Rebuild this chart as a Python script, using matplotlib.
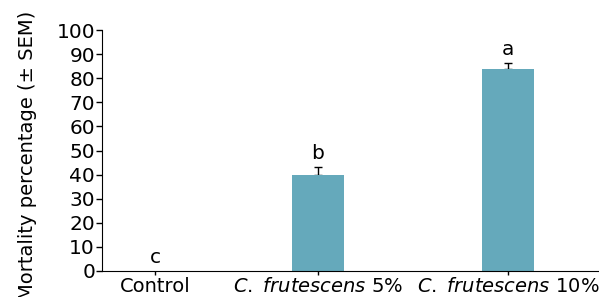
import matplotlib.pyplot as plt

# data
groups = ['Control', 'C. frutescens 5%', 'C. frutescens 10%']
positions = [0, 1, 2.166]
mortality = [0, 40, 84]
sem = [0, 3.3, 2.5]
letters = ['c', 'b', 'a']

plt.rcParams['mathtext.fontset'] = 'custom'
plt.rcParams['mathtext.it'] = 'DejaVu Sans:italic'

fig = plt.figure(figsize=(5.99, 2.97), dpi=100)
ax = fig.add_axes([102 / 599, 26 / 297, 497 / 599, 241 / 297])

ax.bar(positions, mortality, width=0.32, color='#65a9bb', zorder=2)
ax.errorbar(positions[1:], mortality[1:], yerr=[[0, 0], sem[1:]], fmt='none',
            ecolor='black', elinewidth=1, capsize=3, capthick=1, zorder=1)

for x, m, s, l in zip(positions, mortality, sem, letters):
    ax.text(x, m + s + 1.5, l, ha='center', va='bottom', fontsize=14.5)

ax.set_xlim(-0.325, 2.724)
ax.set_ylim(0, 100)
ax.set_yticks(range(0, 101, 10))
ax.set_xticks(positions)
ax.set_xticklabels(['Control', '$\\it{C.}$ $\\it{frutescens}$ 5%',
                    '$\\it{C.}$ $\\it{frutescens}$ 10%'])
ax.tick_params(axis='y', labelsize=14.5, length=4, width=1, pad=1)
ax.tick_params(axis='x', labelsize=14, length=3, width=1, pad=1)
ax.set_ylabel('Mortality percentage (± SEM)', fontsize=14)
ax.yaxis.set_label_coords(-0.13, 0.48)

ax.spines['top'].set_visible(False)
ax.spines['right'].set_visible(False)

plt.savefig('out.png', dpi=100)
